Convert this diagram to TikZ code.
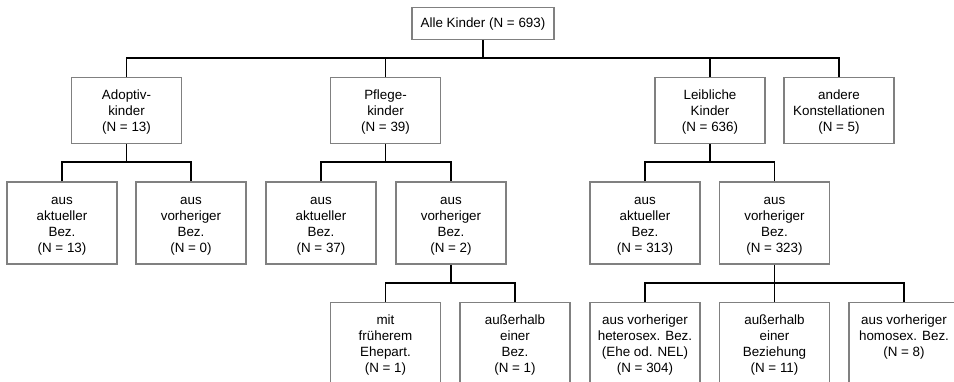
\documentclass[tikz,border=0pt]{standalone}
\usepackage{fontspec}
\setmainfont{Liberation Sans}
\definecolor{boxgray}{RGB}{128,128,128}
\newcommand{\mystrut}{\rule[-3pt]{0pt}{16pt}}
\begin{document}
\begin{tikzpicture}[x=1pt,y=-1pt,
  every node/.style={font=\fontsize{13.4}{16}\selectfont},
  box/.style={draw=boxgray, line width=1.3pt, align=center, minimum width=110pt, inner xsep=0pt, inner ysep=9pt, anchor=north},
  conn/.style={draw=black, line width=1.5pt}]
\useasboundingbox (0,0) rectangle (954,382);
\clip (0,0) rectangle (954,382);
% level 1
\node[box, minimum width=142pt, minimum height=32pt, inner ysep=0pt] (all) at (483,7) {Alle Kinder (N = 693)};
% level 2
\node[box] (adopt) at (126.5,77) {\mystrut Adoptiv-\\\mystrut kinder\\\mystrut (N = 13)};
\node[box] (pflege) at (385.5,77) {\mystrut Pflege-\\\mystrut kinder\\\mystrut (N = 39)};
\node[box] (leib) at (710,77) {\mystrut Leibliche\\\mystrut Kinder\\\mystrut (N = 636)};
\node[box] (andere) at (839,77) {\mystrut andere\\\mystrut Konstellationen\\\mystrut (N = 5)};
% level 3
\node[box] (a1) at (62,181.5) {\mystrut aus\\\mystrut aktueller\\\mystrut Bez.\\\mystrut (N = 13)};
\node[box] (a2) at (191,181.5) {\mystrut aus\\\mystrut vorheriger\\\mystrut Bez.\\\mystrut (N = 0)};
\node[box] (p1) at (321,181.5) {\mystrut aus\\\mystrut aktueller\\\mystrut Bez.\\\mystrut (N = 37)};
\node[box] (p2) at (451,181.5) {\mystrut aus\\\mystrut vorheriger\\\mystrut Bez.\\\mystrut (N = 2)};
\node[box] (l1) at (645,181.5) {\mystrut aus\\\mystrut aktueller\\\mystrut Bez.\\\mystrut (N = 313)};
\node[box] (l2) at (774.5,181.5) {\mystrut aus\\\mystrut vorheriger\\\mystrut Bez.\\\mystrut (N = 323)};
% level 4
\node[box] (p21) at (385.5,302) {\mystrut mit\\\mystrut früherem\\\mystrut Ehepart.\\\mystrut (N = 1)};
\node[box] (p22) at (515,302) {\mystrut außerhalb\\\mystrut einer\\\mystrut Bez.\\\mystrut (N = 1)};
\node[box] (l21) at (645,302) {\mystrut aus vorheriger\\\mystrut heterosex. Bez.\\\mystrut (Ehe od. NEL)\\\mystrut (N = 304)};
\node[box] (l22) at (774.5,302) {\mystrut außerhalb\\\mystrut einer\\\mystrut Beziehung\\\mystrut (N = 11)};
\node[box] (l23) at (904,302) {\mystrut aus vorheriger\\\mystrut homosex. Bez.\\\mystrut (N = 8)\\\mystrut};
% buses
\coordinate (b0) at (0,58);
\coordinate (b1) at (0,162);
\coordinate (b2) at (0,283);
% level 1 -> 2
\draw[conn] (all.south) -- (all.south |- b0);
\draw[conn] (adopt.north) -- (adopt.north |- b0) -- (andere.north |- b0) -- (andere.north);
\draw[conn] (pflege.north) -- (pflege.north |- b0);
\draw[conn] (leib.north) -- (leib.north |- b0);
% level 2 -> 3
\draw[conn] (adopt.south) -- (adopt.south |- b1);
\draw[conn] (a1.north) -- (a1.north |- b1) -- (a2.north |- b1) -- (a2.north);
\draw[conn] (pflege.south) -- (pflege.south |- b1);
\draw[conn] (p1.north) -- (p1.north |- b1) -- (p2.north |- b1) -- (p2.north);
\draw[conn] (leib.south) -- (leib.south |- b1);
\draw[conn] (l1.north) -- (l1.north |- b1) -- (l2.north |- b1) -- (l2.north);
% level 3 -> 4
\draw[conn] (p2.south) -- (p2.south |- b2);
\draw[conn] (p21.north) -- (p21.north |- b2) -- (p22.north |- b2) -- (p22.north);
\draw[conn] (l2.south) -- (l2.south |- b2);
\draw[conn] (l21.north) -- (l21.north |- b2) -- (l23.north |- b2) -- (l23.north);
\draw[conn] (l22.north) -- (l22.north |- b2);
\end{tikzpicture}
\end{document}
